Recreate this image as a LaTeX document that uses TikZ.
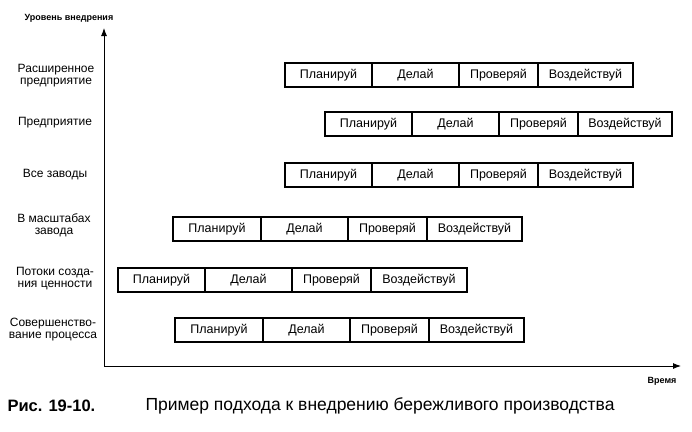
\documentclass[tikz,border=0pt]{standalone}
\usepackage{fontspec}
\setmainfont{Liberation Sans}
\usetikzlibrary{arrows.meta}
\begin{document}
\begin{tikzpicture}[x=1pt,y=-1pt,
  seg/.style={draw,line width=1.6pt,minimum height=24pt,inner sep=0pt,font=\fontsize{12.5}{13}\selectfont},
  lab/.style={align=center,font=\fontsize{12}{12}\selectfont},
  ax/.style={line width=0.9pt,-{Latex[length=8pt,width=6pt]}}]
\useasboundingbox (0,0) rectangle (692,431);
\newcommand{\pdcarow}[6]{%
  \node[seg,minimum width={#3-#2}] (#1a) at ({(#2+#3)/2},#6) {Планируй};
  \node[seg,minimum width={#4-#3}] (#1b) at ({(#3+#4)/2},#6) {Делай};
  \node[seg,minimum width={#5-#4}] (#1c) at ({(#4+#5)/2},#6) {Проверяй};}
\newcommand{\lastseg}[4]{\node[seg,minimum width={#3-#2}] (#1d) at ({(#2+#3)/2},#4) {Воздействуй};}
\pdcarow{r1}{285}{372}{459}{538}{75}\lastseg{r1}{538}{633}{75}
\pdcarow{r2}{325}{412}{499}{578}{124}\lastseg{r2}{578}{672}{124}
\pdcarow{r3}{285}{372}{459}{538}{175}\lastseg{r3}{538}{633}{175}
\pdcarow{r4}{173}{261}{348}{427}{229}\lastseg{r4}{427}{522}{229}
\pdcarow{r5}{118}{205}{292}{371}{280}\lastseg{r5}{371}{467}{280}
\pdcarow{r6}{175}{263}{350}{429}{330}\lastseg{r6}{429}{524}{330}
\node[lab] (l1) at (56,76) {Расширенное\\предприятие};
\node[lab] (l2) at (55,123) {Предприятие};
\node[lab] (l3) at (55,175) {Все заводы};
\node[lab] (l4) at (54,225) {В масштабах\\завода};
\node[lab] (l5) at (55,279) {Потоки созда-\\ния ценности};
\node[lab] (l6) at (53,330) {Совершенство-\\вание процесса};
\coordinate (o) at (104,366);
\coordinate (yt) at (104,28);
\coordinate (xt) at (681,366);
\draw[ax] (o) -- (yt);
\draw[ax] (o) -- (xt);
\node[font=\bfseries\fontsize{9}{10}\selectfont] (yl) at (69,18) {Уровень внедрения};
\node[font=\bfseries\fontsize{9}{10}\selectfont,anchor=east] (xl) at (680,381) {Время};
\node[font=\bfseries\fontsize{16.5}{18}\selectfont,anchor=west] (c1) at (4,406) {Рис. 19-10.};
\node[font=\fontsize{17.5}{18}\selectfont,anchor=west] (c2) at (142,406) {Пример подхода к внедрению бережливого производства};
\end{tikzpicture}
\end{document}
